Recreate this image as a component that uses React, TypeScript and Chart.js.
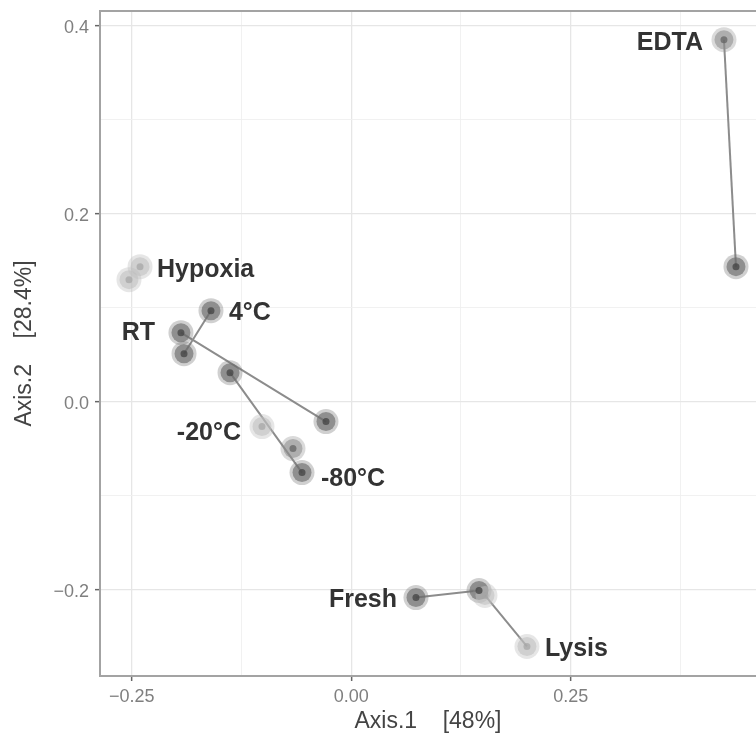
import React, { useEffect, useRef } from 'react';
import { Chart, registerables } from 'chart.js';

Chart.register(...registerables);

// ---- data ----
// 0 Hypoxia a, 1 Hypoxia b, 2 4°C, 3 RT a, 4 RT b, 5 RT pair, 6 -80 pair, 7 -20°C,
// 8 -20 pair, 9 -80°C, 10 Fresh, 11 Fresh pair, 12 Lysis pair, 13 Lysis, 14 EDTA a, 15 EDTA b
const sampleX = [-0.2405, -0.2531, -0.1597, -0.1939, -0.1904, -0.0287, -0.138, -0.1016, -0.0663, -0.056, 0.0738, 0.1456, 0.1524, 0.2002, 0.4246, 0.4383];
const sampleY = [0.1438, 0.130, 0.097, 0.0736, 0.0513, -0.0209, 0.0311, -0.0262, -0.0496, -0.0751, -0.208, -0.2005, -0.2058, -0.260, 0.385, 0.1438];
const sampleTone = ['light', 'light', 'dark', 'dark', 'dark', 'dark', 'dark', 'light', 'mid', 'dark', 'dark', 'dark', 'light', 'light', 'mid', 'dark'];

const segmentFrom = [2, 3, 6, 10, 12, 14];
const segmentTo = [4, 5, 9, 11, 13, 15];

const labelText = ['Hypoxia', '4°C', 'RT', '-20°C', '-80°C', 'Fresh', 'Lysis', 'EDTA'];
const labelX = [-0.2212, -0.1392, -0.2235, -0.1255, -0.0344, 0.0522, 0.2207, 0.4007];
const labelY = [0.1427, 0.097, 0.0761, -0.0305, -0.0795, -0.208, -0.26, 0.3842];
const labelAlign = ['left', 'left', 'right', 'right', 'left', 'right', 'left', 'right'];

const xTickValues = [-0.25, -0.125, 0, 0.125, 0.25, 0.375];
const xTickLabels = ['\u22120.25', '', '0.00', '', '0.25', ''];
const yTickValues = [-0.2, -0.1, 0, 0.1, 0.2, 0.3, 0.4];
const yTickLabels = ['\u22120.2', '', '0.0', '', '0.2', '', '0.4'];

const xTitle = 'Axis.1    [48%]';
const yTitle = 'Axis.2    [28.4%]';

// ---- styles ----
const FONT = '"Liberation Sans", Arial, Helvetica, sans-serif';
const toneHalo: Record<string, string> = {
  dark: 'rgba(110,110,110,0.32)',
  mid: 'rgba(140,140,140,0.32)',
  light: 'rgba(190,190,190,0.38)',
};
const toneBody: Record<string, string> = {
  dark: 'rgba(110,110,110,0.66)',
  mid: 'rgba(140,140,140,0.56)',
  light: 'rgba(190,190,190,0.55)',
};
const toneCore: Record<string, string> = {
  dark: 'rgba(70,70,70,0.80)',
  mid: 'rgba(100,100,100,0.75)',
  light: 'rgba(165,165,165,0.70)',
};

const overlayPlugin = {
  id: 'overlay',
  beforeDatasetsDraw(chart: any) {
    const { ctx, chartArea: a } = chart;
    ctx.save();
    ctx.strokeStyle = '#a3a3a3';
    ctx.lineWidth = 2;
    ctx.beginPath();
    ctx.moveTo(a.right + 2, a.top);
    ctx.lineTo(a.left, a.top);
    ctx.lineTo(a.left, a.bottom);
    ctx.lineTo(a.right + 2, a.bottom);
    ctx.stroke();
    ctx.restore();
  },
  afterDatasetsDraw(chart: any) {
    const { ctx, scales } = chart;
    ctx.save();
    ctx.font = `bold 25px ${FONT}`;
    ctx.fillStyle = '#333333';
    ctx.textBaseline = 'middle';
    labelText.forEach((t, i) => {
      ctx.textAlign = labelAlign[i];
      ctx.fillText(t, scales.x.getPixelForValue(labelX[i]), scales.y.getPixelForValue(labelY[i]) + 2.5);
    });
    ctx.restore();
  },
};

export default function App() {
  const ref = useRef<HTMLCanvasElement>(null);

  useEffect(() => {
    document.body.style.margin = '0';
    const pts = sampleX.map((x, i) => ({ x, y: sampleY[i] }));
    const segDatasets = segmentFrom.map((f, i) => ({
      type: 'scatter' as const,
      data: [pts[f], pts[segmentTo[i]]],
      showLine: true,
      borderColor: '#8c8c8c',
      borderWidth: 2,
      pointRadius: 0,
      order: 5,
    }));
    const chart = new Chart(ref.current as HTMLCanvasElement, {
      type: 'scatter',
      data: {
        datasets: [
          ...segDatasets,
          {
            data: pts,
            pointRadius: 12.5,
            pointBorderWidth: 0,
            pointBackgroundColor: sampleTone.map((t) => toneHalo[t]),
            order: 3,
          },
          {
            data: pts,
            pointRadius: 9.5,
            pointBorderWidth: 0,
            pointBackgroundColor: sampleTone.map((t) => toneBody[t]),
            order: 2,
          },
          {
            data: pts,
            pointRadius: 3.5,
            pointBorderWidth: 0,
            pointBackgroundColor: sampleTone.map((t) => toneCore[t]),
            order: 1,
          },
        ] as any,
      },
      options: {
        animation: false,
        responsive: false,
        maintainAspectRatio: false,
        layout: { autoPadding: false, padding: { top: 11, left: 0, right: 0, bottom: 0 } },
        plugins: { legend: { display: false }, tooltip: { enabled: false } },
        events: [],
        scales: {
          x: {
            type: 'linear',
            min: -0.2861,
            max: 0.4611,
            afterBuildTicks: (s: any) => {
              s.ticks = xTickValues.map((v) => ({ value: v }));
            },
            afterFit: (s: any) => {
              s.height = 61;
              s.paddingLeft = 0;
              s.paddingRight = 0;
              s.paddingTop = 0;
              s.paddingBottom = 0;
            },
            border: { display: false },
            grid: {
              color: (c: any) => (xTickLabels[c.index] ? '#e6e6e6' : '#efefef'),
              lineWidth: (c: any) => (xTickLabels[c.index] ? 1.3 : 0.9),
              tickColor: (c: any) => (xTickLabels[c.index] ? '#666666' : 'rgba(0,0,0,0)'),
              tickLength: 5,
              tickWidth: 1.5,
            },
            ticks: {
              autoSkip: false,
              maxRotation: 0,
              padding: 5,
              color: '#7f7f7f',
              font: { size: 18, family: FONT },
              callback: (_v: any, i: number) => xTickLabels[i],
            },
            title: {
              display: true,
              text: xTitle,
              color: '#444444',
              font: { size: 23, family: FONT },
              padding: { top: 0, bottom: 2 },
            },
          },
          y: {
            type: 'linear',
            min: -0.2914,
            max: 0.4156,
            afterBuildTicks: (s: any) => {
              s.ticks = yTickValues.map((v) => ({ value: v }));
            },
            afterFit: (s: any) => {
              s.width = 100;
              s.paddingLeft = 0;
              s.paddingRight = 0;
              s.paddingTop = 0;
              s.paddingBottom = 0;
            },
            border: { display: false },
            grid: {
              color: (c: any) => (yTickLabels[c.index] ? '#e6e6e6' : '#efefef'),
              lineWidth: (c: any) => (yTickLabels[c.index] ? 1.3 : 0.9),
              tickColor: (c: any) => (yTickLabels[c.index] ? '#666666' : 'rgba(0,0,0,0)'),
              tickLength: 5,
              tickWidth: 1.5,
            },
            ticks: {
              autoSkip: false,
              padding: 6,
              labelOffset: 2,
              color: '#7f7f7f',
              font: { size: 18, family: FONT },
              callback: (_v: any, i: number) => yTickLabels[i],
            },
            title: {
              display: true,
              text: yTitle,
              color: '#444444',
              font: { size: 23, family: FONT },
              padding: { top: 11, bottom: 0 },
            },
          },
        },
      },
      plugins: [overlayPlugin],
    });
    return () => chart.destroy();
  }, []);

  return (
    <div style={{ width: 756, height: 737 }}>
      <canvas ref={ref} width={756} height={737} />
    </div>
  );
}
